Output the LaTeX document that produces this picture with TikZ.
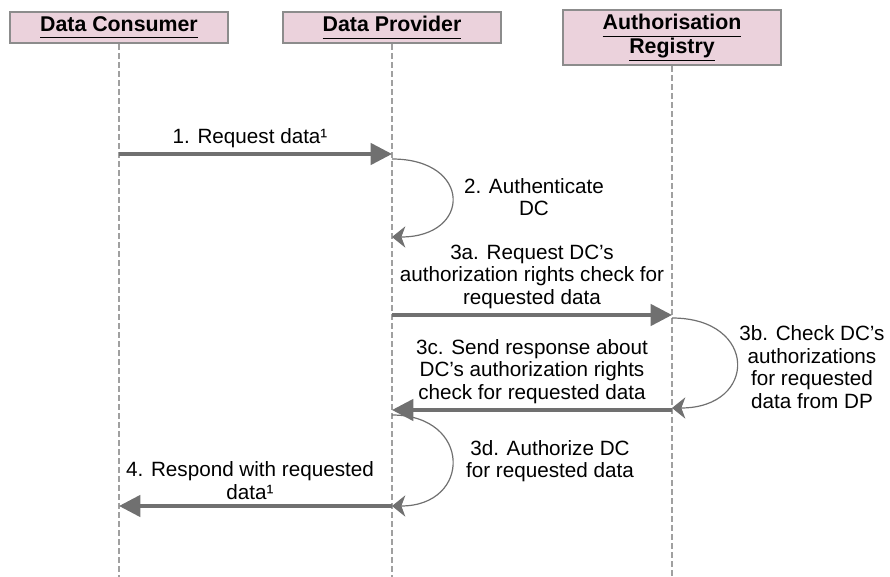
\documentclass[tikz,border=0pt]{standalone}
\usepackage{fontspec}
\setmainfont{Liberation Sans}
\usepackage{tikz}
\usetikzlibrary{arrows.meta}
\definecolor{actorfill}{HTML}{EBD2DC}
\definecolor{actorline}{HTML}{8C8C8C}
\definecolor{msggray}{HTML}{707070}
\definecolor{lifegray}{HTML}{A0A0A0}
\newcommand{\hdul}[1]{\underline{#1\vphantom{gy}}}
\tikzstyle{actor} = [rectangle, minimum width=163.5pt, draw=actorline, line width=2pt, fill=actorfill, align=center, inner sep=0pt, font=\fontsize{16}{16.5}\selectfont\bfseries]
\tikzstyle{lifeline} = [draw=lifegray, line width=1.1pt, dash pattern=on 4.5pt off 2.25pt]
\tikzstyle{msg} = [draw=msggray, line width=2.6pt, -{Triangle[length=16pt,width=16pt]}]
\tikzstyle{selfmsg} = [draw=msggray, line width=0.9pt, -{Stealth[length=10pt,width=16pt,inset=3pt]}]
\tikzstyle{lbl} = [align=center, font=\fontsize{15.5}{17}\selectfont]

\begin{document}
\begin{tikzpicture}[x=0.75pt,y=-0.75pt]
 \useasboundingbox (0,0) rectangle (890,577);
 \node[actor, minimum height=23.25pt] (dc) at (119,27.5)
              {\hdul{Data Consumer}};
 \node[actor, minimum height=23.25pt] (dp) at (392,27.5)
              {\hdul{Data Provider}};
 \node[actor, minimum height=41.25pt] (ar) at (672,37.5)
              {\hdul{Authorisation}\\\hdul{Registry}};
% lifelines
 \coordinate (dcend) at (119,577);
 \coordinate (dpend) at (392,577);
 \coordinate (arend) at (672,577);
 \draw[lifeline] (dc.south) -- (dcend);
 \draw[lifeline] (dp.south) -- (dpend);
 \draw[lifeline] (ar.south) -- (arend);
% points on the lifelines
 \coordinate (dc1) at (119,154);
 \coordinate (dp1) at (392,154);
 \coordinate (dp2) at (392,159);
 \coordinate (dp3) at (392,237);
 \coordinate (dp4) at (392,315);
 \coordinate (ar1) at (672,315);
 \coordinate (ar2) at (672,318);
 \coordinate (ar3) at (672,408);
 \coordinate (ar4) at (672,410);
 \coordinate (dp5) at (392,410);
 \coordinate (dp6) at (392,415);
 \coordinate (dp7) at (392,506);
 \coordinate (dc2) at (119,506);
% arrows
 \draw[msg] (dc1) -- (dp1)
            node [lbl,pos=0.48,above] (l1) {1. Request data¹};
 \draw[selfmsg] (dp2) .. controls +(80,0) and +(80,0) .. (dp3);
 \node[lbl] (l2) at (534,197) {2. Authenticate\\DC};
 \draw[msg] (dp4) -- (ar1)
            node [lbl,midway,above] (l3a) {3a. Request DC's\\authorization rights check for\\requested data};
 \draw[selfmsg] (ar2) .. controls +(86,0) and +(86,0) .. (ar3);
 \node[lbl] (l3b) at (812,367) {3b. Check DC's\\authorizations\\for requested\\data from DP};
 \draw[msg] (ar4) -- (dp5)
            node [lbl,midway,above] (l3c) {3c. Send response about\\DC's authorization rights\\check for requested data};
 \draw[selfmsg] (dp6) .. controls +(80,0) and +(80,0) .. (dp7);
 \node[lbl] (l3d) at (550,461) {3d. Authorize DC\\for requested data};
 \draw[msg] (dp7) -- (dc2)
            node [lbl,pos=0.52,above] (l4) {4. Respond with requested\\data¹};
\end{tikzpicture}
\end{document}
